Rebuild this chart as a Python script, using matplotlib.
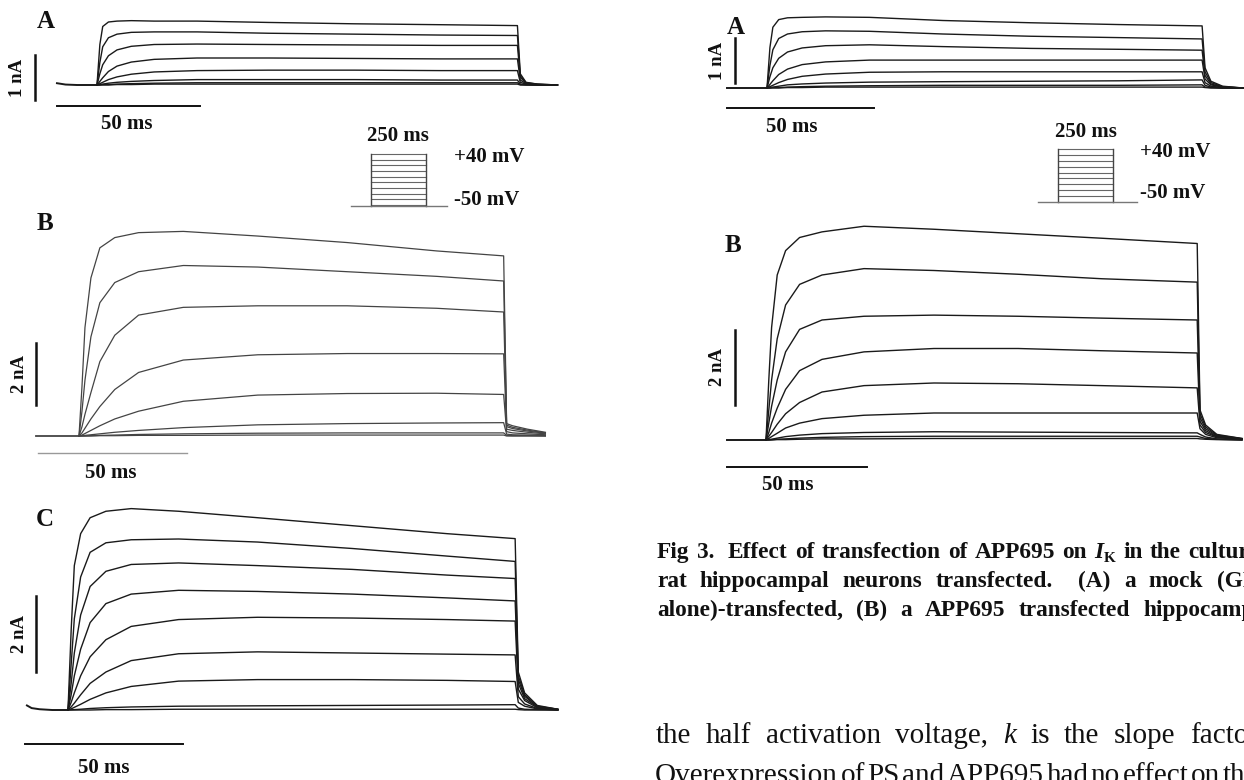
import matplotlib.pyplot as plt

W, H = 1244, 780
plt.rcParams['font.family'] = ['Liberation Serif', 'DejaVu Serif']

# -------------------------------------------------------------------------
# Data: time after step onset (ms), current (nA)
# last four points of each trace are the tail after the step
# -------------------------------------------------------------------------
la_t = [0, 1, 2, 4, 7, 12, 20, 35, 60, 90, 120, 147, 148, 150, 154, 161]
la_i = [
    [0, 0.90, 1.30, 1.40, 1.42, 1.43, 1.42, 1.42, 1.39, 1.36, 1.34, 1.32, 0.25, 0.06, 0.02, 0.0],
    [0, 0.50, 0.85, 1.05, 1.13, 1.17, 1.18, 1.18, 1.15, 1.13, 1.11, 1.10, 0.21, 0.05, 0.02, 0.0],
    [0, 0.25, 0.45, 0.65, 0.78, 0.86, 0.90, 0.91, 0.90, 0.89, 0.88, 0.88, 0.17, 0.04, 0.01, 0.0],
    [0, 0.08, 0.16, 0.30, 0.42, 0.51, 0.57, 0.60, 0.60, 0.59, 0.58, 0.58, 0.11, 0.03, 0.01, 0.0],
    [0, 0.03, 0.06, 0.12, 0.18, 0.24, 0.29, 0.32, 0.33, 0.33, 0.32, 0.32, 0.06, 0.02, 0.0, 0.0],
    [0, 0.01, 0.02, 0.04, 0.06, 0.08, 0.10, 0.12, 0.12, 0.12, 0.11, 0.11, 0.02, 0.01, 0.0, 0.0],
    [0, 0.0, 0.01, 0.01, 0.02, 0.03, 0.04, 0.05, 0.05, 0.05, 0.05, 0.05, 0.01, 0.0, 0.0, 0.0],
    [0, 0.0, 0.0, 0.0, 0.01, 0.01, 0.02, 0.02, 0.02, 0.02, 0.02, 0.02, 0.0, 0.0, 0.0, 0.0],
]
la_pre_t = [-14, -11, -7, 0]
la_pre_i = [0.04, 0.01, 0.0, 0.0]

lb_t = [0, 1, 2, 4, 7, 12, 20, 35, 60, 90, 120, 142.5, 143.5, 145.5, 150.5, 156.5]
lb_i = [
    [0, 1.6, 3.5, 5.1, 6.07, 6.4, 6.56, 6.6, 6.45, 6.24, 5.97, 5.81, 0.40, 0.33, 0.22, 0.12],
    [0, 0.8, 1.8, 3.2, 4.3, 4.95, 5.3, 5.5, 5.45, 5.3, 5.15, 5.0, 0.35, 0.28, 0.19, 0.10],
    [0, 0.3, 0.7, 1.4, 2.4, 3.25, 3.9, 4.15, 4.2, 4.2, 4.12, 4.0, 0.30, 0.24, 0.16, 0.09],
    [0, 0.1, 0.25, 0.55, 0.95, 1.5, 2.05, 2.45, 2.62, 2.66, 2.66, 2.65, 0.22, 0.18, 0.12, 0.07],
    [0, 0.03, 0.08, 0.18, 0.33, 0.55, 0.8, 1.12, 1.32, 1.37, 1.38, 1.34, 0.14, 0.10, 0.07, 0.04],
    [0, 0.01, 0.02, 0.04, 0.07, 0.12, 0.18, 0.27, 0.36, 0.40, 0.42, 0.43, 0.06, 0.04, 0.03, 0.02],
    [0, 0.0, 0.0, 0.01, 0.02, 0.03, 0.05, 0.07, 0.09, 0.10, 0.10, 0.10, 0.02, 0.01, 0.01, 0.0],
    [0, 0.0, 0.0, 0.0, 0.01, 0.01, 0.02, 0.02, 0.03, 0.03, 0.03, 0.03, 0.0, 0.0, 0.0, 0.0],
]
lb_pre_t = [-14.5, 0]
lb_pre_i = [0.0, 0.0]

lc_t = [0, 1, 2, 4, 7, 12, 20, 35, 60, 90, 120, 141.5, 142.5, 144.5, 148.5, 155]
lc_i = [
    [0, 2.1, 3.8, 4.64, 5.06, 5.23, 5.3, 5.23, 5.06, 4.85, 4.64, 4.51, 1.0, 0.45, 0.12, 0.02],
    [0, 1.2, 2.4, 3.5, 4.15, 4.4, 4.48, 4.5, 4.42, 4.25, 4.05, 3.91, 0.9, 0.40, 0.10, 0.02],
    [0, 0.7, 1.5, 2.5, 3.25, 3.65, 3.83, 3.87, 3.8, 3.7, 3.55, 3.46, 0.8, 0.36, 0.09, 0.02],
    [0, 0.4, 0.9, 1.6, 2.3, 2.8, 3.05, 3.15, 3.12, 3.05, 2.95, 2.87, 0.7, 0.30, 0.08, 0.01],
    [0, 0.2, 0.45, 0.9, 1.4, 1.85, 2.2, 2.38, 2.44, 2.42, 2.38, 2.34, 0.55, 0.25, 0.06, 0.01],
    [0, 0.08, 0.18, 0.4, 0.7, 1.0, 1.3, 1.48, 1.53, 1.5, 1.47, 1.45, 0.35, 0.16, 0.04, 0.01],
    [0, 0.03, 0.07, 0.15, 0.28, 0.45, 0.62, 0.76, 0.8, 0.8, 0.78, 0.75, 0.2, 0.10, 0.03, 0.0],
    [0, 0.005, 0.01, 0.02, 0.04, 0.06, 0.08, 0.1, 0.11, 0.12, 0.13, 0.14, 0.05, 0.02, 0.01, 0.0],
    [0, 0.0, 0.0, 0.0, 0.0, 0.01, 0.01, 0.02, 0.02, 0.02, 0.02, 0.02, 0.01, 0.0, 0.0, 0.0],
]
lc_pre_t = [-13, -11.5, -9, -5, 0]
lc_pre_i = [0.12, 0.05, 0.02, 0.0, 0.0]

ra_t = [0, 1, 2, 4, 7, 12, 20, 35, 60, 90, 120, 148.5, 149.5, 151.5, 155.5, 162.5]
ra_i = [
    [0, 0.9, 1.35, 1.52, 1.56, 1.57, 1.58, 1.57, 1.5, 1.45, 1.41, 1.38, 0.45, 0.15, 0.04, 0.0],
    [0, 0.5, 0.85, 1.1, 1.2, 1.25, 1.27, 1.26, 1.2, 1.15, 1.12, 1.09, 0.36, 0.12, 0.03, 0.0],
    [0, 0.25, 0.45, 0.66, 0.8, 0.89, 0.94, 0.96, 0.92, 0.88, 0.86, 0.84, 0.28, 0.09, 0.02, 0.0],
    [0, 0.08, 0.16, 0.3, 0.42, 0.52, 0.58, 0.62, 0.62, 0.62, 0.62, 0.62, 0.2, 0.07, 0.02, 0.0],
    [0, 0.03, 0.06, 0.12, 0.19, 0.26, 0.31, 0.35, 0.36, 0.36, 0.36, 0.36, 0.12, 0.04, 0.01, 0.0],
    [0, 0.01, 0.02, 0.04, 0.07, 0.09, 0.11, 0.13, 0.14, 0.15, 0.16, 0.18, 0.06, 0.02, 0.0, 0.0],
    [0, 0.0, 0.01, 0.01, 0.02, 0.03, 0.04, 0.05, 0.06, 0.06, 0.06, 0.07, 0.02, 0.01, 0.0, 0.0],
    [0, 0.0, 0.0, 0.0, 0.01, 0.01, 0.02, 0.02, 0.02, 0.02, 0.02, 0.02, 0.01, 0.0, 0.0, 0.0],
]
ra_pre_t = [-13.7, 0]
ra_pre_i = [0.0, 0.0]

rb_t = [0, 1, 2, 4, 7, 12, 20, 35, 60, 90, 120, 154, 155, 157, 161, 170]
rb_i = [
    [0, 1.6, 3.0, 4.4, 5.05, 5.4, 5.55, 5.7, 5.62, 5.5, 5.38, 5.24, 0.8, 0.4, 0.15, 0.04],
    [0, 0.8, 1.6, 2.7, 3.6, 4.15, 4.4, 4.57, 4.52, 4.42, 4.3, 4.21, 0.7, 0.35, 0.13, 0.04],
    [0, 0.45, 0.9, 1.6, 2.35, 2.95, 3.2, 3.3, 3.33, 3.3, 3.25, 3.2, 0.6, 0.3, 0.11, 0.03],
    [0, 0.2, 0.45, 0.85, 1.35, 1.85, 2.15, 2.35, 2.44, 2.44, 2.38, 2.32, 0.5, 0.25, 0.09, 0.03],
    [0, 0.1, 0.2, 0.42, 0.7, 1.0, 1.28, 1.45, 1.52, 1.5, 1.45, 1.39, 0.4, 0.2, 0.08, 0.02],
    [0, 0.04, 0.09, 0.18, 0.32, 0.45, 0.57, 0.66, 0.72, 0.72, 0.72, 0.72, 0.3, 0.15, 0.06, 0.02],
    [0, 0.01, 0.02, 0.05, 0.09, 0.13, 0.17, 0.2, 0.22, 0.21, 0.2, 0.19, 0.15, 0.08, 0.03, 0.01],
    [0, 0.0, 0.01, 0.02, 0.03, 0.05, 0.07, 0.09, 0.1, 0.1, 0.1, 0.1, 0.08, 0.04, 0.02, 0.0],
    [0, 0.0, 0.0, 0.01, 0.01, 0.02, 0.03, 0.03, 0.04, 0.04, 0.04, 0.04, 0.03, 0.02, 0.01, 0.0],
]
rb_pre_t = [-14, 0]
rb_pre_i = [0.0, 0.0]

# voltage protocol steps (mV)
step_mv = [-50, -40, -30, -20, -10, 0, 10, 20, 30, 40]

# "" = extra word space
caption_lines = [
    ["Fig", "3.", "", "Effect", "of", "transfection", "of", "APP695", "on", "I_K", "in", "the", "cultured"],
    ["rat", "hippocampal", "neurons", "transfected.", "", "(A)", "a", "mock", "(GFP"],
    ["alone)-transfected,", "(B)", "a", "APP695", "transfected", "hippocampal"],
]
body_lines = [
    ["the", "half", "activation", "voltage,", "*k", "is", "the", "slope", "factor"],
    ["Overexpression", "of", "PS", "and", "APP695", "had", "no", "effect", "on", "the"],
]

# -------------------------------------------------------------------------
# Layout (pixel positions, top-left origin)
# -------------------------------------------------------------------------
panels = [
    dict(letter='A', t=la_t, i=la_i, pre=(la_pre_t, la_pre_i), onset=(97, 85), sx=2.86, sy=45,
         lab=(46, 22), vbar=(35, 100, 1, '1 nA', 18), hbar=(57, 106), ms=(127, 124),
         color='#1a1a1a', lw=1.0, hcol='#111', hlw=1.4),
    dict(letter='B', t=lb_t, i=lb_i, pre=(lb_pre_t, lb_pre_i), onset=(79, 436), sx=2.98, sy=31,
         lab=(45, 224), vbar=(36, 405, 2, '2 nA', 19), hbar=(38, 453), ms=(111, 473),
         color='#444', lw=0.9, hcol='#999', hlw=1.0),
    dict(letter='C', t=lc_t, i=lc_i, pre=(lc_pre_t, lc_pre_i), onset=(68, 710), sx=3.16, sy=38,
         lab=(45, 520), vbar=(36, 672, 2, '2 nA', 19), hbar=(25, 744), ms=(104, 768),
         color='#1a1a1a', lw=1.0, hcol='#111', hlw=1.4),
    dict(letter='A', t=ra_t, i=ra_i, pre=(ra_pre_t, ra_pre_i), onset=(767, 88), sx=2.93, sy=45,
         lab=(736, 27), vbar=(735, 83, 1, '1 nA', 717), hbar=(727, 108), ms=(792, 127),
         color='#1a1a1a', lw=1.0, hcol='#111', hlw=1.4),
    dict(letter='B', t=rb_t, i=rb_i, pre=(rb_pre_t, rb_pre_i), onset=(766, 440), sx=2.8, sy=37.5,
         lab=(733, 245), vbar=(735, 405, 2, '2 nA', 717), hbar=(727, 467), ms=(788, 485),
         color='#1a1a1a', lw=1.0, hcol='#111', hlw=1.4),
]

protocols = [
    dict(box=(371, 426), top=154, bottom=205, hold=(351, 447), hold_y=206,
         lab250=(398, 136), lab_x=454, plus_y=157, minus_y=200),
    dict(box=(1058, 1113), top=149, bottom=202, hold=(1038, 1137), hold_y=202,
         lab250=(1086, 132), lab_x=1140, plus_y=152, minus_y=193),
]

fig = plt.figure(figsize=(W / 100, H / 100), dpi=100)
fig.patch.set_facecolor('white')

# overlay axes in pixel coordinates for all labels and text
pax = fig.add_axes([0, 0, 1, 1], zorder=5)
pax.set_xlim(0, W)
pax.set_ylim(H, 0)
pax.axis('off')
pax.patch.set_alpha(0)

BOLD = dict(fontweight='bold', color='#111')

T_LO, T_HI, V_LO, V_HI = -30, 180, -2, 8

for p in panels:
    ox, oy = p['onset']
    sx, sy = p['sx'], p['sy']
    left, right = ox + T_LO * sx, ox + T_HI * sx
    top, bottom = oy - V_HI * sy, oy - V_LO * sy
    ax = fig.add_axes([left / W, 1 - bottom / H, (right - left) / W, (bottom - top) / H])
    ax.set_xlim(T_LO, T_HI)
    ax.set_ylim(V_LO, V_HI)
    ax.axis('off')

    pre_t, pre_i = p['pre']
    ax.plot(pre_t, pre_i, color=p['color'], lw=p['lw'] + 0.4, clip_on=False)
    for tr in p['i']:
        ax.plot(p['t'], tr, color=p['color'], lw=p['lw'], clip_on=False, solid_joinstyle='round')

    # vertical scale bar (nA)
    bx, by, blen, btxt, tx = p['vbar']
    t_bar = (bx - ox) / sx
    v0 = (oy - by) / sy
    ax.plot([t_bar, t_bar], [v0, v0 + blen], color='#111', lw=1.8, clip_on=False)
    pax.text(tx, by - blen * sy / 2, btxt, rotation=90, ha='center', va='center',
             fontsize=13.5, **BOLD)

    # horizontal scale bar (50 ms)
    hx, hy = p['hbar']
    t0 = (hx - ox) / sx
    vh = (oy - hy) / sy
    ax.plot([t0, t0 + 50], [vh, vh], color=p['hcol'], lw=p['hlw'], clip_on=False)
    pax.text(p['ms'][0], p['ms'][1], '50 ms', ha='center', va='center', fontsize=15, **BOLD)

    pax.text(p['lab'][0], p['lab'][1], p['letter'], ha='center', va='center', fontsize=18, **BOLD)

# voltage protocol insets
for pr in protocols:
    x0, x1 = pr['box']
    for mv in step_mv:
        y = pr['bottom'] - (mv - step_mv[0]) / (step_mv[-1] - step_mv[0]) * (pr['bottom'] - pr['top'])
        pax.plot([x0, x1], [y, y], color='#666', lw=0.8)
    pax.plot([x0, x0], [pr['top'], pr['hold_y']], color='#444', lw=1.0)
    pax.plot([x1, x1], [pr['top'], pr['hold_y']], color='#444', lw=1.0)
    pax.plot(list(pr['hold']), [pr['hold_y'], pr['hold_y']], color='#777', lw=1.0)
    pax.text(pr['lab250'][0], pr['lab250'][1], '250 ms', ha='center', va='center', fontsize=15, **BOLD)
    pax.text(pr['lab_x'], pr['plus_y'], '+40 mV', ha='left', va='center', fontsize=15, **BOLD)
    pax.text(pr['lab_x'], pr['minus_y'], '-50 mV', ha='left', va='center', fontsize=15, **BOLD)

# -------------------------------------------------------------------------
# Caption / body text, words laid out one by one (justified lines)
# -------------------------------------------------------------------------
renderer = fig.canvas.get_renderer()


def word_segments(word):
    if word == "I_K":
        return [("I", dict(fontstyle='italic'), 0, 1.0), ("K", {}, 4, 0.65)]
    if word.startswith("*"):
        return [(word[1:], dict(fontstyle='italic'), 0, 1.0)]
    return [(word, {}, 0, 1.0)]


def measure(segs, size, weight):
    w = 0
    for s, kw, dy, rel in segs:
        if not s:
            continue
        t = pax.text(0, 0, s, fontsize=size * rel, fontweight=weight, **kw)
        w += t.get_window_extent(renderer=renderer).width + 1
        t.remove()
    return w


def draw_line(words, x0, y, size, weight, x1=None):
    segs = [word_segments(w) for w in words]
    widths = [measure(s, size, weight) for s in segs]
    if x1 is None:
        gap = 0.27 * size * 100 / 72
    else:
        gap = (x1 - x0 - sum(widths)) / (len(words) - 1)
    x = x0
    for sg, w in zip(segs, widths):
        xx = x
        for s, kw, dy, rel in sg:
            if not s:
                continue
            t = pax.text(xx, y + dy, s, fontsize=size * rel, fontweight=weight, color='#111',
                         ha='left', va='baseline', clip_on=False, **kw)
            xx += t.get_window_extent(renderer=renderer).width + 1
        x += w + gap


draw_line(caption_lines[0], 657, 558, 16.8, 'bold')
draw_line(caption_lines[1], 657, 587, 16.8, 'bold', x1=1272)
draw_line(caption_lines[2], 657, 616, 16.8, 'bold', x1=1274)
draw_line(body_lines[0], 656, 743, 21, 'normal', x1=1259)
draw_line(body_lines[1], 655, 783, 21, 'normal', x1=1259)

fig.savefig('out.png', dpi=100, facecolor='white')
